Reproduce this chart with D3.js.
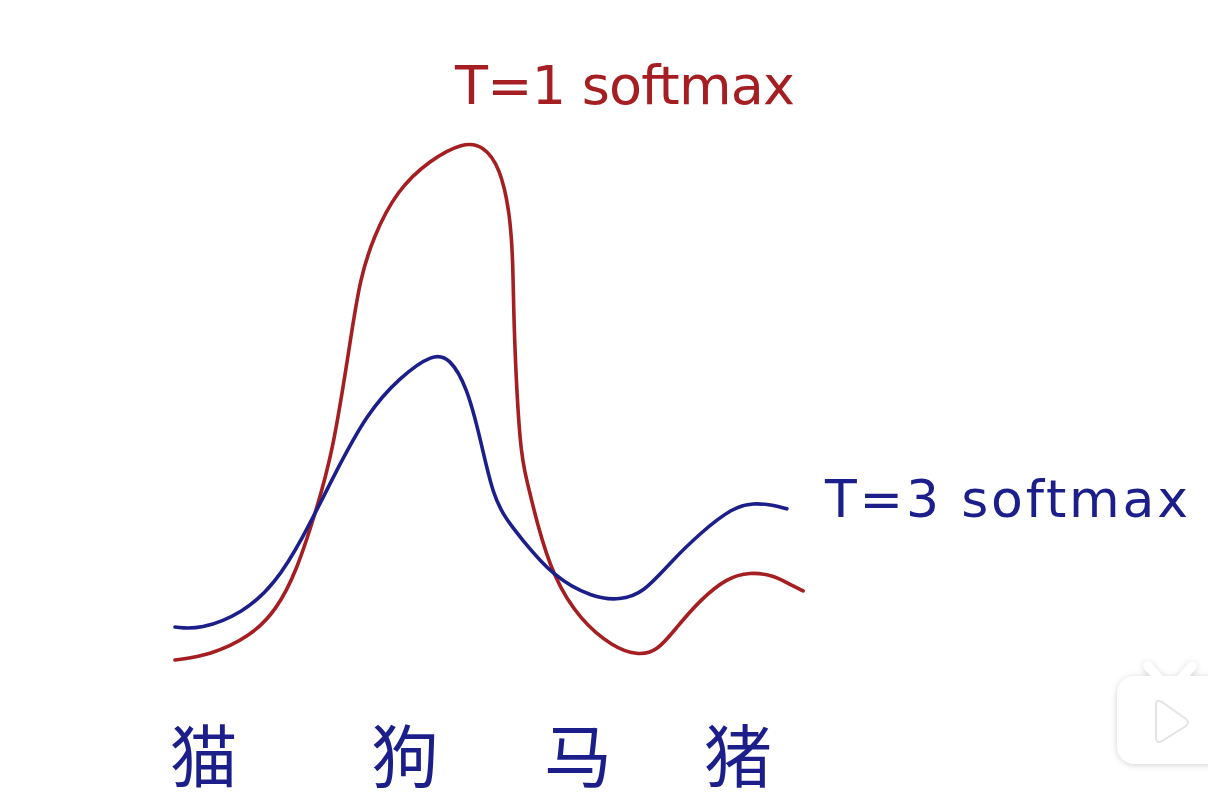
<!DOCTYPE html>
<html>
<head>
<meta charset="utf-8">
<script src="https://cdn.jsdelivr.net/npm/d3@7"></script>
<style>
  html, body { margin: 0; padding: 0; background: #fff; overflow: hidden; }
</style>
</head>
<body>
<div id="chart"></div>
<script>
// categories along the bottom
const categories = ["猫", "狗", "马", "猪"];
const categoryPos = [4.6, 36.8, 64.5, 90.1];

// T=1 softmax curve (x: position 0-100, y: height 0-100)
const redX = [0, 5.6, 12.0, 16.3, 19.5, 22.1, 25.3, 28.3, 29.6, 31.7, 35.5, 40.8, 46.1, 49.3, 52.0, 53.6, 54.1, 54.2,
  55.2, 56.3, 57.9, 60.5, 64.8, 70.1, 73.9, 77.1, 80.3, 84.0, 88.3, 92.0, 95.7, 97.9, 100.5];
const redY = [3.7, 4.6, 8.0, 13.0, 20.4, 29.6, 42.0, 64.8, 74.1, 82.0, 90.7, 96.3, 99.6, 99.0, 95.0, 86.5, 77.2, 64.8,
  42.0, 37.0, 29.1, 19.1, 11.1, 6.1, 4.6, 5.2, 9.8, 14.8, 18.9, 20.0, 19.4, 18.0, 16.5];

// T=3 softmax curve
const blueX = [0, 4.0, 10.9, 16.0, 20.3, 25.3, 30.7, 36.0, 41.3, 44.0, 46.7, 48.8, 50.9, 53.1, 55.2, 60.5, 66.9, 71.2,
  74.9, 79.2, 84.0, 89.3, 92.5, 95.7, 97.9];
const blueY = [9.8, 9.3, 12.4, 17.8, 25.9, 37.6, 49.4, 56.1, 60.5, 59.6, 54.3, 45.0, 33.9, 29.6, 26.5, 19.1, 15.2, 14.8,
  16.1, 21.7, 27.2, 32.0, 32.8, 32.4, 31.7];

const redLabel = "T=1 softmax";
const blueLabel = "T=3 softmax";

const width = 1208, height = 804;
const red = "#a51f22", blue = "#1c1f8a";

const svg = d3.select("#chart").append("svg")
    .attr("width", width).attr("height", height);

const x = d3.scaleLinear().domain([0, 100]).range([175, 800]);
const y = d3.scaleLinear().domain([0, 100]).range([680, 140]);

const line = d3.line()
    .x(d => x(d[0]))
    .y(d => y(d[1]))
    .curve(d3.curveBasis);

svg.append("path")
    .attr("d", line(d3.zip(redX, redY)))
    .attr("fill", "none")
    .attr("stroke", red)
    .attr("stroke-width", 3.6)
    .attr("stroke-linecap", "round")
    .attr("stroke-linejoin", "round");

svg.append("path")
    .attr("d", line(d3.zip(blueX, blueY)))
    .attr("fill", "none")
    .attr("stroke", blue)
    .attr("stroke-width", 3.6)
    .attr("stroke-linecap", "round")
    .attr("stroke-linejoin", "round");

// curve labels
svg.append("text")
    .attr("x", 455).attr("y", 104)
    .attr("textLength", 340).attr("lengthAdjust", "spacing")
    .attr("font-family", "DejaVu Sans")
    .attr("font-size", 54)
    .attr("fill", red)
    .text(redLabel);

svg.append("text")
    .attr("x", 825).attr("y", 517)
    .attr("textLength", 363).attr("lengthAdjust", "spacing")
    .attr("font-family", "DejaVu Sans")
    .attr("font-size", 52)
    .attr("fill", blue)
    .text(blueLabel);

// category labels
svg.selectAll("text.cat")
    .data(categories)
    .enter().append("text")
    .attr("class", "cat")
    .attr("x", (d, i) => x(categoryPos[i]))
    .attr("y", 752)
    .attr("text-anchor", "middle")
    .attr("dominant-baseline", "central")
    .attr("font-family", "Noto Sans CJK SC")
    .attr("font-size", 68)
    .attr("fill", blue)
    .text(d => d);

// faint watermark icon
const defs = svg.append("defs");
const f = defs.append("filter").attr("id", "sh").attr("x", "-30%").attr("y", "-30%").attr("width", "160%").attr("height", "160%");
f.append("feDropShadow").attr("dx", 0).attr("dy", 1).attr("stdDeviation", 3).attr("flood-color", "#000").attr("flood-opacity", 0.18);

const logo = svg.append("g").attr("filter", "url(#sh)");
logo.append("line").attr("x1", 1148).attr("y1", 666).attr("x2", 1160).attr("y2", 680)
    .attr("stroke", "#fff").attr("stroke-width", 9).attr("stroke-linecap", "round");
logo.append("line").attr("x1", 1192).attr("y1", 666).attr("x2", 1180).attr("y2", 680)
    .attr("stroke", "#fff").attr("stroke-width", 9).attr("stroke-linecap", "round");
logo.append("rect").attr("x", 1117).attr("y", 676).attr("width", 110).attr("height", 88).attr("rx", 18)
    .attr("fill", "#fff");
logo.append("path").attr("d", "M1156,704 L1156,738 Q1156,744 1162,741 L1186,726 Q1190,722 1186,719 L1162,702 Q1156,699 1156,704 Z")
    .attr("fill", "#fff").attr("stroke", "#e4e4e4").attr("stroke-width", 2);
</script>
</body>
</html>
